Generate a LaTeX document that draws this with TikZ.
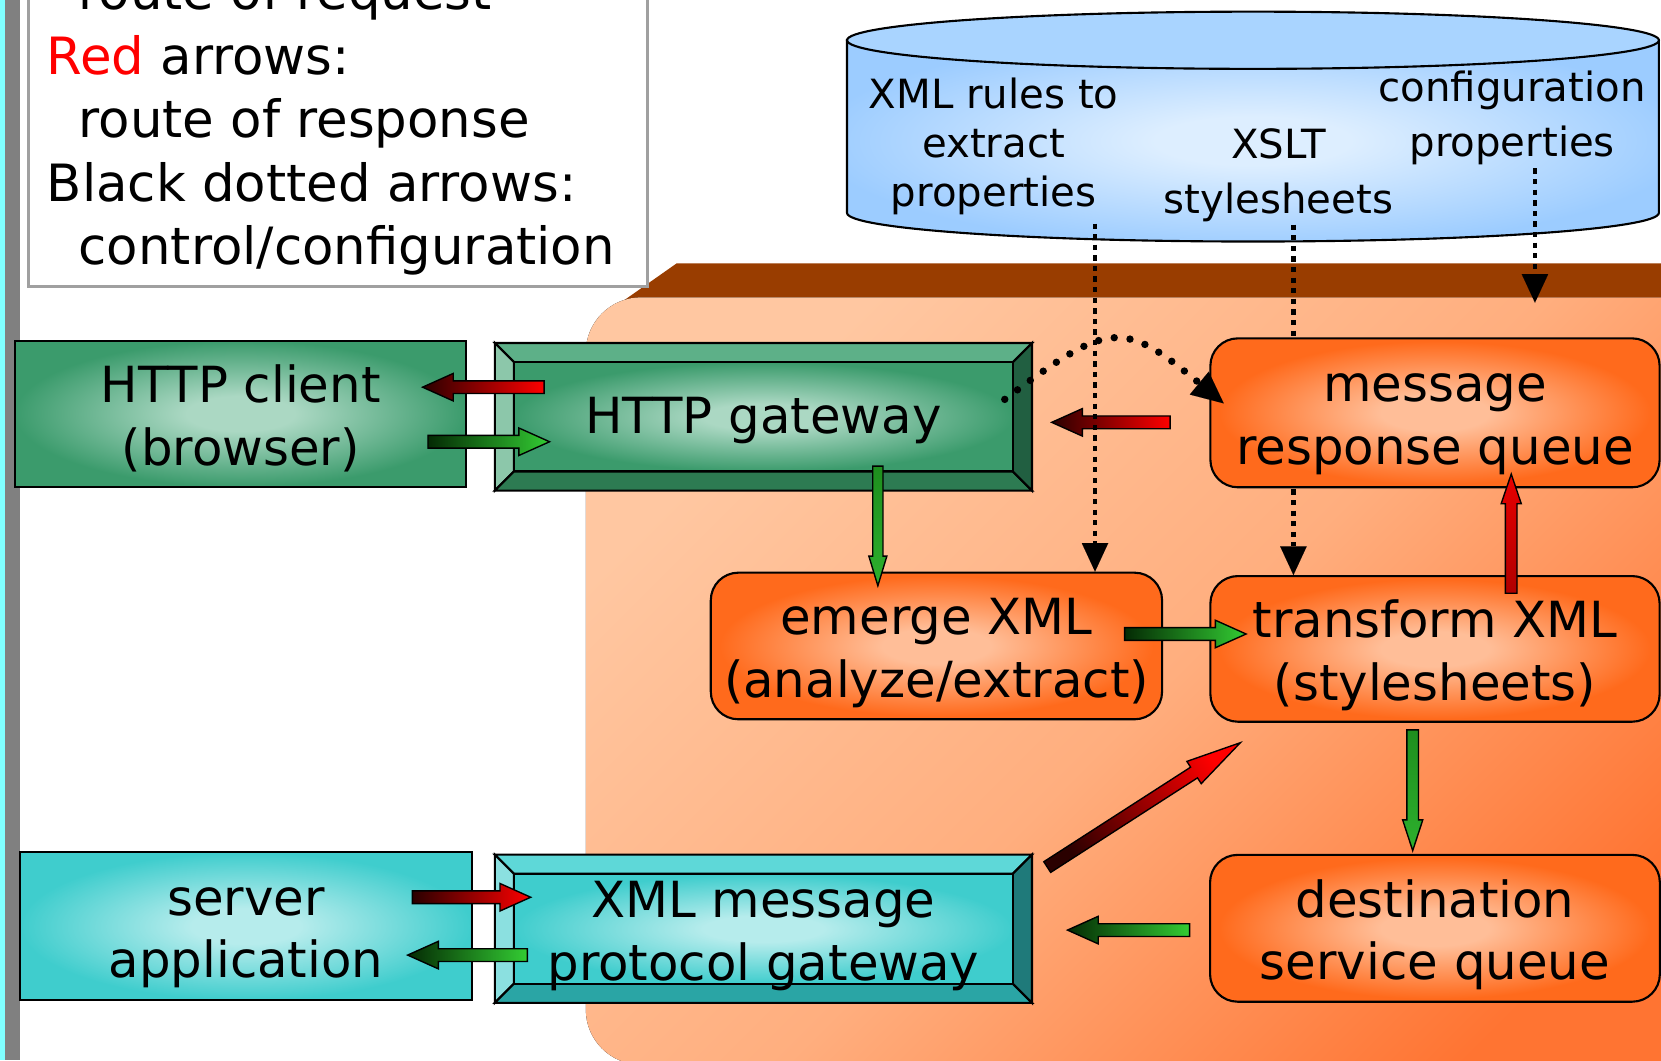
\documentclass[tikz,border=0pt]{standalone}
\usepackage{fontspec}
\setmainfont{DejaVu Sans}
\usetikzlibrary{calc,arrows.meta}
\definecolor{orin}{HTML}{FFBE98}
\definecolor{orout}{HTML}{FF6A1C}
\definecolor{grin}{HTML}{ABD8C3}
\definecolor{grout}{HTML}{3B9B6C}
\definecolor{cyin}{HTML}{B6ECEC}
\definecolor{cyout}{HTML}{3FCDCD}
\definecolor{blin}{HTML}{DDEEFF}
\definecolor{blout}{HTML}{9CCCFF}
\definecolor{cyltop}{HTML}{A9D4FF}
\definecolor{slabA}{HTML}{FFC7A1}
\definecolor{slabB}{HTML}{FFAE7E}
\definecolor{slabC}{HTML}{FF7432}
\definecolor{brownband}{HTML}{993D00}
\definecolor{stripcyan}{HTML}{80FFFF}
\definecolor{stripgray}{HTML}{808080}
\definecolor{leggray}{HTML}{A0A0A0}
\definecolor{gbtop}{HTML}{5DB088}
\definecolor{gbleft}{HTML}{8CC7AA}
\definecolor{gbbot}{HTML}{2D7B52}
\definecolor{gbright}{HTML}{215F41}
\definecolor{cbtop}{HTML}{5ED8D8}
\definecolor{cbleft}{HTML}{8BE0E0}
\definecolor{cbbot}{HTML}{2AA5A5}
\definecolor{cbright}{HTML}{1F7A7A}
\definecolor{redB}{HTML}{FF0000}
\definecolor{redD}{HTML}{2A0000}
\definecolor{grnB}{HTML}{33CC33}
\definecolor{grnD}{HTML}{042A04}
\definecolor{grnV1}{HTML}{1E8E1E}
\definecolor{grnV2}{HTML}{2DB02D}
\definecolor{redV1}{HTML}{B00000}
\definecolor{redV2}{HTML}{E80000}
\pgfdeclareradialshading{orglow}{\pgfpoint{0bp}{0bp}}{color(0bp)=(orin); color(6bp)=(orin); color(24bp)=(orout); color(50bp)=(orout)}
\pgfdeclareradialshading{grglow}{\pgfpoint{0bp}{0bp}}{color(0bp)=(grin); color(6bp)=(grin); color(25bp)=(grout); color(50bp)=(grout)}
\pgfdeclareradialshading{cyglow}{\pgfpoint{0bp}{0bp}}{color(0bp)=(cyin); color(6bp)=(cyin); color(25bp)=(cyout); color(50bp)=(cyout)}
\pgfdeclareradialshading{blglow}{\pgfpoint{0bp}{0bp}}{color(0bp)=(blin); color(6bp)=(blin); color(27bp)=(blout); color(50bp)=(blout)}
\pgfdeclarelayer{back}
\pgfsetlayers{back,main}
\newcommand\mytop{\rule{0pt}{52pt}}
\newcommand\mybot{\rule[-14pt]{0pt}{14pt}}
\newcommand\cytop{\rule{0pt}{40pt}}
\newcommand\cybot{\rule[-10pt]{0pt}{10pt}}
\newcommand\blockarrow[7]{%
  \pgfmathanglebetweenpoints{\pgfpointanchor{#1}{center}}{\pgfpointanchor{#2}{center}}%
  \pgfmathsetmacro\barang{\pgfmathresult-90}%
  \path[blockarr, top color=#4, bottom color=#3, shading angle=\barang]
    ($(#1)!#5!90:(#2)$) -- ($(#2)!#7!(#1)!#5!90:(#2)$) -- ($(#2)!#7!(#1)!#6!90:(#2)$) -- (#2)
    -- ($(#2)!#7!(#1)!#6!-90:(#2)$) -- ($(#2)!#7!(#1)!#5!-90:(#2)$) -- ($(#1)!#5!-90:(#2)$) -- cycle;
}
\newcommand\bevelfaces[5]{%
  \filldraw[bevel, fill=#2] (#1.north west) -- (#1.north east) -- ($(#1.north east)+(-18,18)$) -- ($(#1.north west)+(18,18)$) -- cycle;
  \filldraw[bevel, fill=#3] (#1.north west) -- ($(#1.north west)+(18,18)$) -- ($(#1.south west)+(18,-18)$) -- (#1.south west) -- cycle;
  \filldraw[bevel, fill=#4] (#1.south west) -- ($(#1.south west)+(18,-18)$) -- ($(#1.south east)+(-18,-18)$) -- (#1.south east) -- cycle;
  \filldraw[bevel, fill=#5] (#1.north east) -- (#1.south east) -- ($(#1.south east)+(-18,-18)$) -- ($(#1.north east)+(-18,18)$) -- cycle;
}
\begin{document}
\begin{tikzpicture}[x=1pt,y=-1pt,
  txt/.style={inner sep=0pt, text=black},
  boxtxt/.style={font=\fontsize{47}{59}\selectfont, align=center, inner sep=0pt},
  glowbox/.style={boxtxt, draw=black, line width=2pt, shade},
  obox/.style={glowbox, shading=orglow, rounded corners=26pt},
  gbox/.style={glowbox, shading=grglow},
  cbox/.style={glowbox, shading=cyglow},
  legtxt/.style={txt, anchor=base west, font=\fontsize{48.5}{60}\selectfont},
  cyltxt/.style={txt, align=center},
  bevel/.style={draw=black, line width=2pt, line join=miter},
  blockarr/.style={draw=black, line width=1.3pt, line join=miter},
  ctrl/.style={line width=4.5pt, dash pattern=on 5pt off 5pt, -{Triangle[length=27pt,width=25pt,line width=0.01pt]}},
  dotcurve/.style={line width=7pt, line cap=round, dash pattern=on 0pt off 15pt, -{Triangle[length=30pt,width=28pt,line width=0.01pt]}}
]
\useasboundingbox (0,0) rectangle (1568,1001);
\begin{pgfonlayer}{back}
\fill[white] (0,0) rectangle (1568,1001);
\fill[stripcyan] (0,0) rectangle (5,1001);
\fill[stripgray] (5,0) rectangle (19,1001);
\fill[brownband] (638.8,248.6) -- (1600,248.6) -- (1600,292) -- (577,292) -- cycle;
\fill[rounded corners=52pt, top color=slabA, bottom color=slabC, middle color=slabB, shading angle=45] (553,280.7) rectangle (1650,1005);
\path[shade, shading=blglow, draw=black, line width=2pt] (799.6,38) -- (799.6,201) arc[start angle=180, end angle=360, x radius=383.2pt, y radius=27pt] -- (1566,38) -- cycle;
\filldraw[fill=cyltop, draw=black, line width=2pt] (1182.8,38) ellipse [x radius=383.2pt, y radius=27pt];
\end{pgfonlayer}

% cylinder texts
\node[cyltxt, font=\fontsize{38}{46.4}\selectfont] (cyl1) at (938,133.7) {\cytop XML rules to\\extract\\properties\cybot};
\node[cyltxt, font=\fontsize{38}{52}\selectfont] (cyl2) at (1207,160.5) {\cytop XSLT\\stylesheets\cybot};
\node[cyltxt, font=\fontsize{38}{52}\selectfont] (cyl3) at (1427.5,107) {\cytop configuration\\properties\cybot};

% legend
\node[draw=leggray, fill=white, line width=2.5pt, minimum width=584pt, minimum height=290.6pt, inner sep=0pt] (legend) at (319,125.3) {};
\node[legtxt] (leg1) at (74,9.4) {route of request};
\node[legtxt] (leg2) at (44,70) {\textcolor{red}{Red} arrows:};
\node[legtxt] (leg3) at (74,129.6) {route of response};
\node[legtxt] (leg4) at (44,190.4) {Black dotted arrows:};
\node[legtxt] (leg5) at (74,250) {control/configuration};

% boxes
\node[gbox, minimum width=426.3pt, minimum height=137.8pt] (client) at (227.15,390.5) {\mytop HTTP client\\(browser)\mybot};
\node[cbox, minimum width=426.4pt, minimum height=139.4pt] (server) at (232.2,874.3) {\mytop server\\application\mybot};
\node[obox, minimum width=424.1pt, minimum height=140.6pt] (mrq) at (1354.65,389.7) {\mytop message\\response queue\mybot};
\node[obox, minimum width=426pt, minimum height=138.4pt] (emerge) at (884,609.8) {\mytop emerge XML\\(analyze/extract)\mybot};
\node[obox, minimum width=424.1pt, minimum height=137.5pt] (trans) at (1354.65,612.55) {\mytop transform XML\\(stylesheets)\mybot};
\node[obox, minimum width=424.6pt, minimum height=138.6pt] (dest) at (1354.6,876.3) {\mytop destination\\service queue\mybot};

\node[inner sep=0pt, minimum width=506.7pt, minimum height=139pt] (gw) at (720.65,393.5) {};
\bevelfaces{gw}{gbtop}{gbleft}{gbbot}{gbright}
\node[gbox, minimum width=470.7pt, minimum height=103pt] (gwin) at (gw.center) {\rule[-14pt]{0pt}{59pt}HTTP gateway};

\node[inner sep=0pt, minimum width=506.7pt, minimum height=139.5pt] (xgw) at (720.65,876.75) {};
\bevelfaces{xgw}{cbtop}{cbleft}{cbbot}{cbright}
\node[cbox, minimum width=470.7pt, minimum height=103.5pt] (xgwin) at (xgw.center) {};
\node[boxtxt] (xgwtxt) at (xgw.center) {\mytop XML message\\protocol gateway\mybot};

\begin{pgfonlayer}{back}
\coordinate (xsltsrc) at (1221,212);
\draw[ctrl] (xsltsrc) -- (xsltsrc |- trans.north);
\end{pgfonlayer}

% block arrows
\coordinate (a1) at (513.7,365.5); \coordinate (a2) at (398.9,365.5);
\blockarrow{a1}{a2}{redB}{redD}{6pt}{13pt}{29pt}
\coordinate (b1) at (404,417); \coordinate (b2) at (518.8,417);
\blockarrow{b1}{b2}{grnD}{grnB}{6pt}{13pt}{29pt}
\coordinate (c1) at (828.7,440); \coordinate (c2) at (828.7,553);
\blockarrow{c1}{c2}{grnV1}{grnV2}{4.8pt}{8.5pt}{28pt}
\coordinate (d1) at (1104.6,398.7); \coordinate (d2) at (992.8,398.7);
\blockarrow{d1}{d2}{redB}{redD}{6pt}{13pt}{29pt}
\coordinate (e1) at (1061.6,598.5); \coordinate (e2) at (1176.3,598.5);
\blockarrow{e1}{e2}{grnD}{grnB}{6pt}{13pt}{29pt}
\coordinate (f1) at (1426.6,560); \coordinate (f2) at (1426.6,447.5);
\blockarrow{f1}{f2}{redV1}{redV2}{5.5pt}{9.5pt}{28pt}
\coordinate (g1) at (1333.6,689); \coordinate (g2) at (1333.6,803);
\blockarrow{g1}{g2}{grnV1}{grnV2}{5.5pt}{9.5pt}{29pt}
\coordinate (h1) at (988.6,818.5); \coordinate (h2) at (1170.9,701.1);
\blockarrow{h1}{h2}{redD}{redB}{6pt}{12.5pt}{52pt}
\coordinate (i1) at (1123,878); \coordinate (i2) at (1007.7,878);
\blockarrow{i1}{i2}{grnB}{grnD}{6pt}{13pt}{29pt}
\coordinate (j1) at (389.3,847); \coordinate (j2) at (501,847);
\blockarrow{j1}{j2}{redD}{redB}{6pt}{13pt}{29pt}
\coordinate (k1) at (497.8,901.6); \coordinate (k2) at (384.8,901.6);
\blockarrow{k1}{k2}{grnB}{grnD}{6pt}{13pt}{29pt}

% control arrows
\coordinate (xmlsrc) at (1033.7,211);
\draw[ctrl] (xmlsrc) -- (xmlsrc |- emerge.north);
\coordinate (cfgsrc) at (1449,159);
\coordinate (cfgend) at (1449,285.7);
\draw[ctrl] (cfgsrc) -- (cfgend);
\coordinate (cstart) at (948.5,377);
\coordinate (cend) at (1155.2,380.8);
\draw[dotcurve] (cstart) .. controls (1048,302) and (1060,302) .. (cend);
\end{tikzpicture}
\end{document}
